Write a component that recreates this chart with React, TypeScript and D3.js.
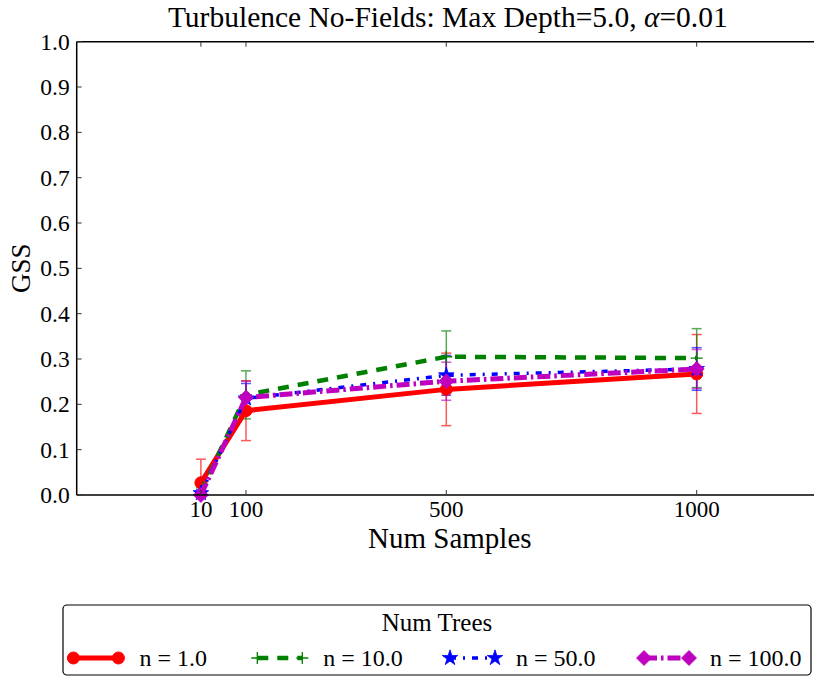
import React from "react";
import * as d3 from "d3";

const samples = [10, 100, 500, 1000];
const xTicks = [10, 100, 500, 1000];
const yTicks = [0, 0.1, 0.2, 0.3, 0.4, 0.5, 0.6, 0.7, 0.8, 0.9, 1.0];

const labels = ["n = 1.0", "n = 10.0", "n = 50.0", "n = 100.0"];
const red = [0.027, 0.186, 0.233, 0.267];
const redErr = [0.052, 0.066, 0.08, 0.087];
const green = [0.006, 0.221, 0.305, 0.302];
const greenErr = [0.01, 0.053, 0.057, 0.065];
const blue = [0.004, 0.213, 0.264, 0.278];
const blueErr = [0.008, 0.033, 0.044, 0.047];
const magenta = [0.0, 0.215, 0.251, 0.278];
const magentaErr = [0.006, 0.036, 0.042, 0.043];

type Series = {
  label: string;
  values: number[];
  errs: number[];
  color: string;
  width: number;
  dash: string;
  marker: "circle" | "plus" | "star" | "diamond";
};

const series: Series[] = [
  { label: labels[0], values: red, errs: redErr, color: "#ff0000", width: 5, dash: "none", marker: "circle" },
  { label: labels[1], values: green, errs: greenErr, color: "#008000", width: 4.5, dash: "11 9", marker: "plus" },
  { label: labels[2], values: blue, errs: blueErr, color: "#0000ff", width: 3.5, dash: "6 7 2 7", marker: "star" },
  { label: labels[3], values: magenta, errs: magentaErr, color: "#bf00bf", width: 5, dash: "13 4 2.5 4", marker: "diamond" },
];

const W = 814;
const H = 677;
const left = 76.7;
const top = 41.7;
const bottom = 495;
const pxPerUnit = 0.5008;
const xMin = -238;
const xMax = 1252;

const FONT = "'Liberation Serif', 'DejaVu Serif', serif";

const x = d3.scaleLinear().domain([xMin, xMax]).range([left, left + (xMax - xMin) * pxPerUnit]);
const y = d3.scaleLinear().domain([0, 1]).range([bottom, top]);
const right = x(xMax);

function Marker({ type, cx, cy, color }: { type: Series["marker"]; cx: number; cy: number; color: string }) {
  if (type === "circle") return <circle cx={cx} cy={cy} r={6} fill={color} stroke={color} strokeWidth={1} />;
  if (type === "plus")
    return (
      <path
        d={`M${cx - 6},${cy}H${cx + 6}M${cx},${cy - 6}V${cy + 6}`}
        stroke={color}
        strokeWidth={1.3}
        fill="none"
      />
    );
  if (type === "star") {
    const p = d3.symbol().type(d3.symbolStar).size(75)();
    return <path d={p || ""} transform={`translate(${cx},${cy})`} fill={color} stroke={color} strokeWidth={0.8} />;
  }
  const r = 7.5;
  return <path d={`M${cx},${cy - r}L${cx + r},${cy}L${cx},${cy + r}L${cx - r},${cy}Z`} fill={color} stroke={color} strokeWidth={0.8} />;
}

export default function App() {
  const line = d3
    .line<number>()
    .x((_, i) => x(samples[i]))
    .y((v) => y(v));

  const legendY = 658;
  const legendStarts = [73.4, 257.3, 450, 644];
  const handleLen = 45;

  return (
    <svg
      width={W}
      height={H}
      style={{ position: "absolute", left: 0, top: 0, background: "#fff" }}
      fontFamily={FONT}
    >
      <rect x={0} y={0} width={W} height={H} fill="#fff" />
      {/* Title */}
      <text x={(left + right) / 2 - 2} y={27} textAnchor="middle" fontSize={29.5} fill="#000">
        Turbulence No-Fields: Max Depth=5.0, <tspan fontStyle="italic">α</tspan>=0.01
      </text>

      {/* Error bars */}
      {series.map((s, si) => (
        <g key={"e" + si} stroke={s.color} strokeWidth={1.5} opacity={0.65} fill="none">
          {s.values.map((v, i) => {
            const cx = x(samples[i]);
            const y1 = y(Math.max(0, v - s.errs[i]));
            const y2 = y(v + s.errs[i]);
            return (
              <g key={i}>
                <line x1={cx} x2={cx} y1={y1} y2={y2} />
                {v - s.errs[i] >= 0 && <line x1={cx - 5} x2={cx + 5} y1={y1} y2={y1} />}
                <line x1={cx - 5} x2={cx + 5} y1={y2} y2={y2} />
              </g>
            );
          })}
        </g>
      ))}

      {/* Lines and markers */}
      {series.map((s, si) => (
        <g key={"l" + si}>
          <path
            d={line(s.values) || ""}
            fill="none"
            stroke={s.color}
            strokeWidth={s.width}
            strokeDasharray={s.dash}
            strokeLinejoin="round"
          />
          {s.values.map((v, i) => (
            <Marker key={i} type={s.marker} cx={x(samples[i])} cy={y(v)} color={s.color} />
          ))}
        </g>
      ))}

      {/* Frame */}
      <g stroke="#000" strokeWidth={1.5} fill="none">
        <line x1={left} x2={left} y1={top} y2={bottom} />
        <line x1={left} x2={right} y1={bottom} y2={bottom} />
        <line x1={left} x2={right} y1={top} y2={top} />
        <line x1={right} x2={right} y1={top} y2={bottom} />
      </g>

      {/* Y ticks */}
      {yTicks.map((t) => (
        <g key={"y" + t}>
          <line x1={left} x2={left + 5} y1={y(t)} y2={y(t)} stroke="#333" strokeWidth={1} />
          <line x1={right} x2={right - 5} y1={y(t)} y2={y(t)} stroke="#333" strokeWidth={1} />
          <text x={left - 7} y={y(t) + 8} textAnchor="end" fontSize={23.5} fill="#000">
            {t.toFixed(1)}
          </text>
        </g>
      ))}

      {/* X ticks */}
      {xTicks.map((t) => (
        <g key={"x" + t}>
          <line x1={x(t)} x2={x(t)} y1={bottom} y2={bottom - 5} stroke="#333" strokeWidth={1} />
          <line x1={x(t)} x2={x(t)} y1={top} y2={top + 5} stroke="#333" strokeWidth={1} />
          <text x={x(t)} y={bottom + 22} textAnchor="middle" fontSize={23} fill="#000">
            {t}
          </text>
        </g>
      ))}

      {/* Axis labels */}
      <text x={(left + right) / 2} y={548} textAnchor="middle" fontSize={29} fill="#000">
        Num Samples
      </text>
      <text
        transform={`translate(30,${(top + bottom) / 2}) rotate(-90)`}
        textAnchor="middle"
        fontSize={27}
        fill="#000"
      >
        GSS
      </text>

      {/* Legend */}
      <rect x={63} y={605} width={748} height={70} rx={4} ry={4} fill="#fff" stroke="#000" strokeWidth={1.2} />
      <text x={437} y={631} textAnchor="middle" fontSize={25} fill="#000">
        Num Trees
      </text>
      {series.map((s, si) => {
        const x0 = legendStarts[si];
        const x1 = x0 + handleLen;
        return (
          <g key={"lg" + si}>
            <line x1={x0} x2={x1} y1={legendY} y2={legendY} stroke={s.color} strokeWidth={s.width} strokeDasharray={s.dash} />
            <Marker type={s.marker} cx={x0} cy={legendY} color={s.color} />
            <Marker type={s.marker} cx={x1} cy={legendY} color={s.color} />
            <text x={x0 + 66} y={legendY + 8} fontSize={24} fill="#000">
              {s.label}
            </text>
          </g>
        );
      })}
    </svg>
  );
}
